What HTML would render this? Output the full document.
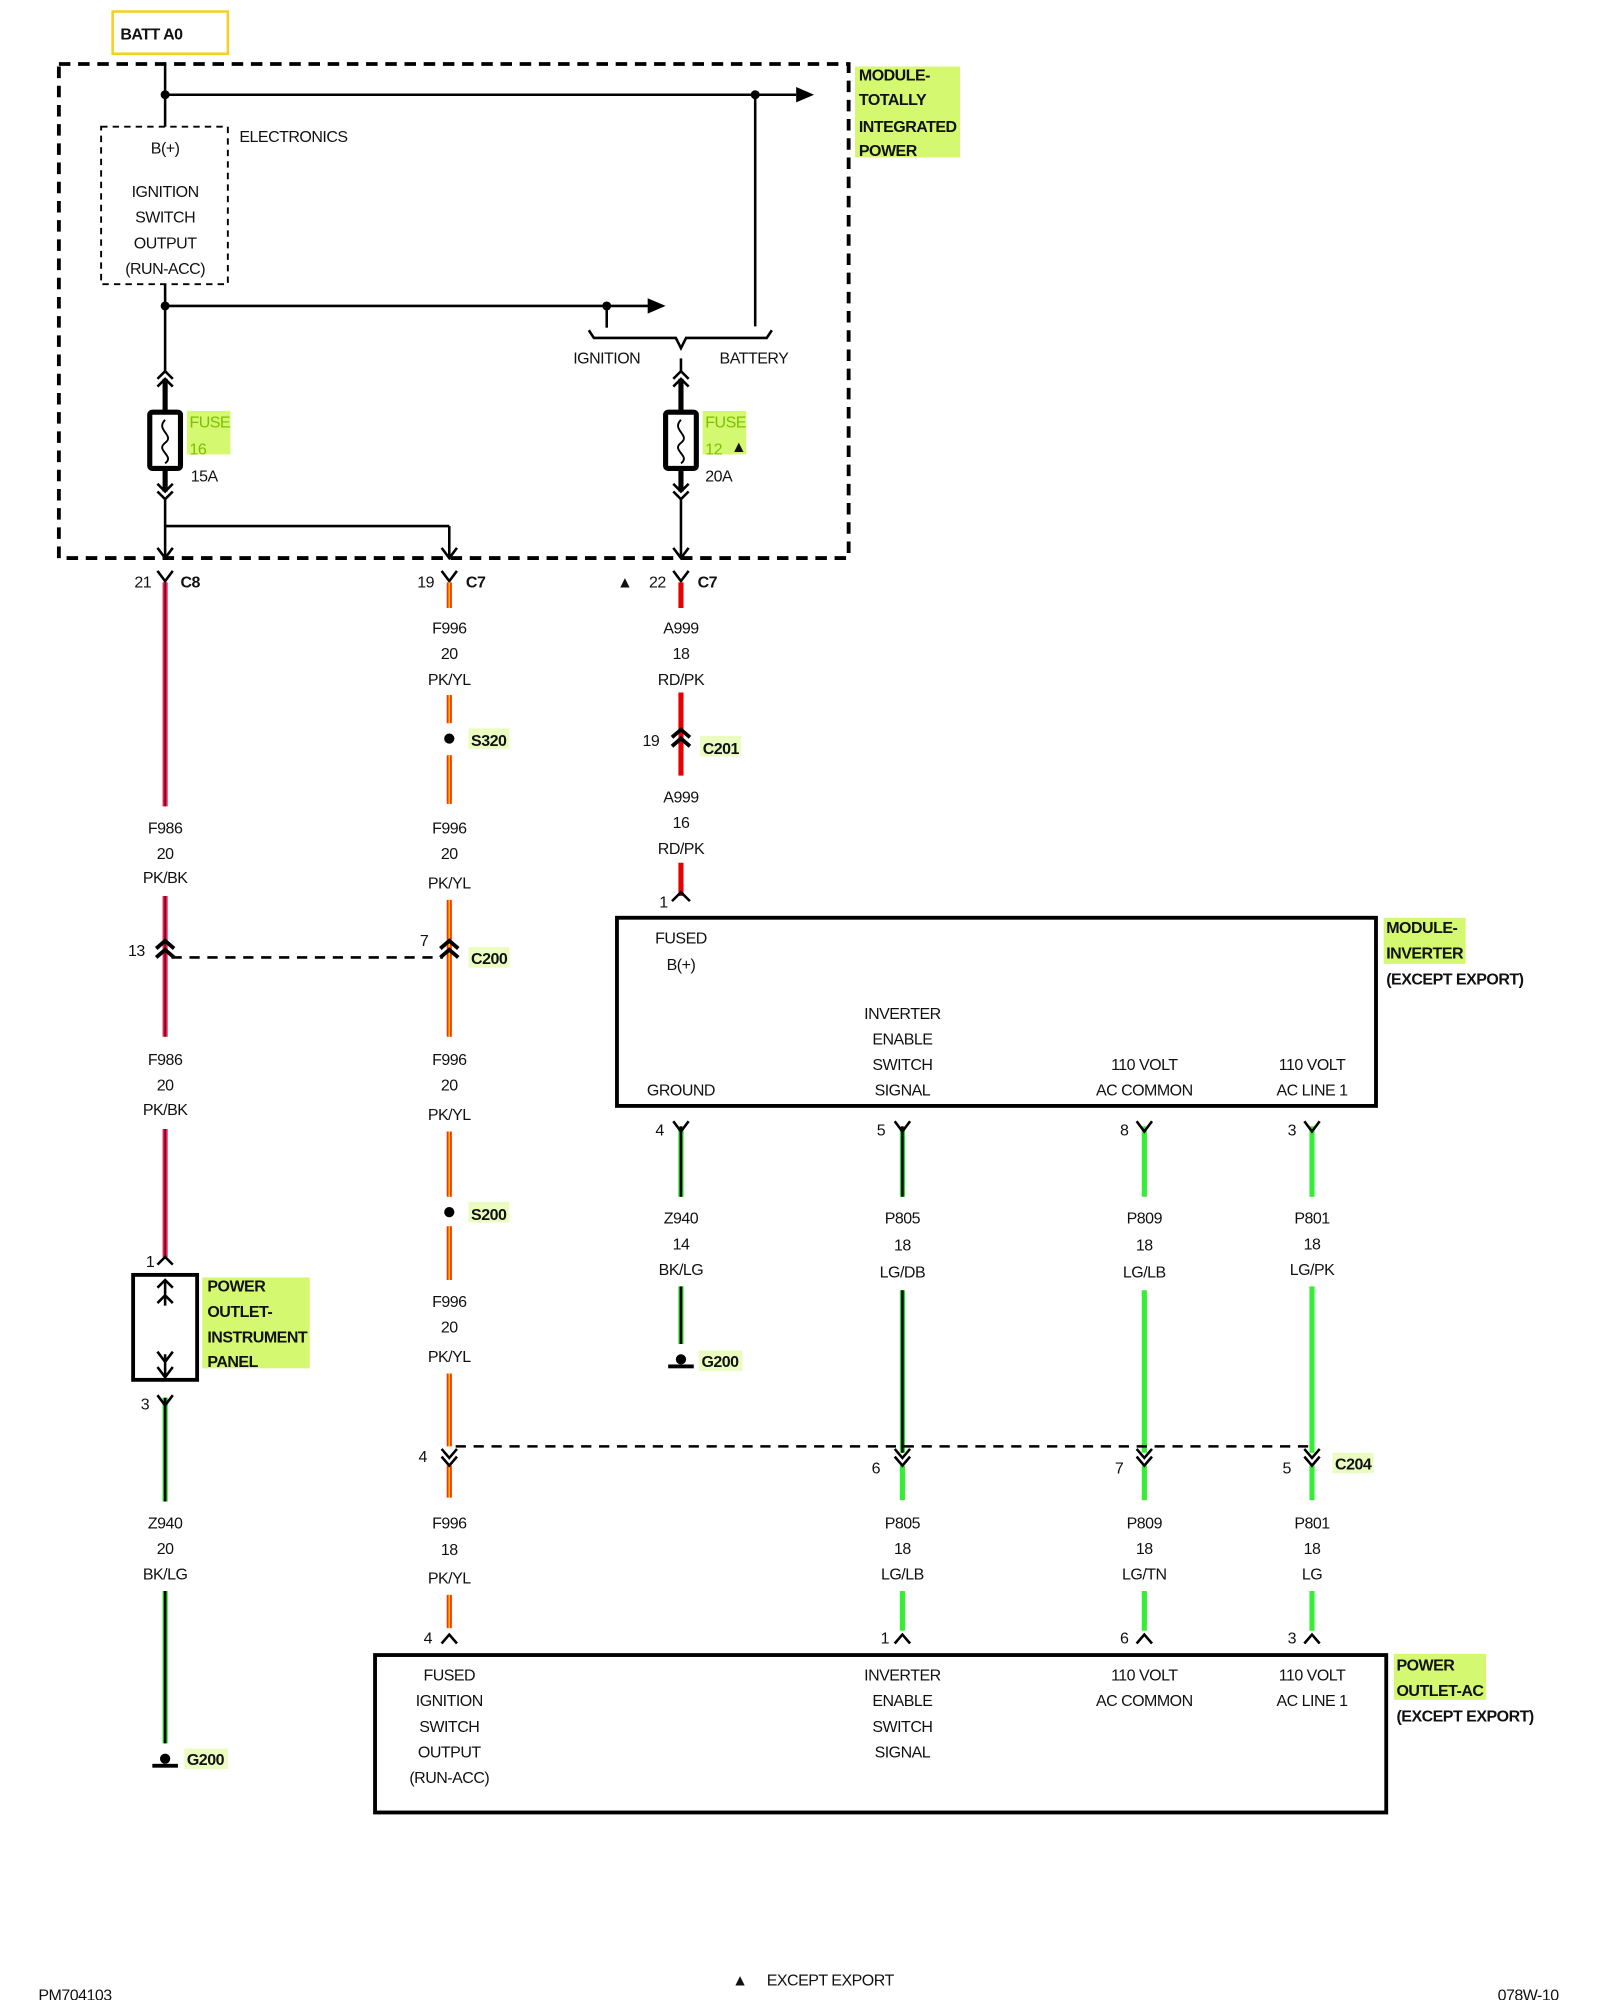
<!DOCTYPE html>
<html><head><meta charset="utf-8"><style>
html,body{margin:0;padding:0;background:#fff;}
svg{display:block;}
text{font-family:"Liberation Sans",sans-serif;font-size:12.5px;letter-spacing:-0.4px;fill:#111;}
.m{text-anchor:middle;}
.b{font-weight:bold;}
.g{fill:#7cc000;}
</style></head><body>
<svg width="1600" height="2000" viewBox="0 0 1250 1562.5" xmlns="http://www.w3.org/2000/svg">
<rect width="1250" height="1562.5" fill="#fff"/>
<rect x="88" y="9" width="90" height="33" fill="none" stroke="#f5d020" stroke-width="2"/>
<text x="94" y="31" class="b">BATT A0</text>
<rect x="46" y="50" width="617" height="386" fill="none" stroke="#000" stroke-width="3" stroke-dasharray="9,6"/>
<rect x="668" y="52" width="82" height="71" fill="#d4f870"/>
<text x="671" y="63" class="b">MODULE-</text><text x="671" y="82" class="b">TOTALLY</text>
<text x="671" y="103" class="b">INTEGRATED</text><text x="671" y="122" class="b">POWER</text>
<g stroke="#000" stroke-width="2" fill="none">
<line x1="129" y1="50" x2="129" y2="99"/>
<line x1="129" y1="74" x2="622" y2="74"/>
<line x1="590" y1="74" x2="590" y2="255"/>
<line x1="129" y1="222" x2="129" y2="290"/>
<line x1="129" y1="239" x2="508" y2="239"/>
<line x1="474" y1="239" x2="474" y2="256"/>
<path d="M460 258 l4 6 h64 l4 8 l4 -8 h63 l4 -6"/>
<line x1="532" y1="280" x2="532" y2="290"/>
<rect x="79" y="99" width="99" height="123" stroke-width="1.5" stroke-dasharray="5,4"/>
</g>
<g fill="#000">
<circle cx="129" cy="74" r="3.5"/><circle cx="590" cy="74" r="3.5"/>
<circle cx="129" cy="239" r="3.5"/><circle cx="474" cy="239" r="3.5"/>
<polygon points="622,68 636,74 622,80"/><polygon points="506,233 520,239 506,245"/>
</g>
<text x="129" y="120" class="m">B(+)</text>
<text x="129" y="154" class="m">IGNITION</text><text x="129" y="174" class="m">SWITCH</text>
<text x="129" y="194" class="m">OUTPUT</text><text x="129" y="214" class="m">(RUN-ACC)</text>
<text x="187" y="111">ELECTRONICS</text>
<text x="474" y="284" class="m">IGNITION</text><text x="589" y="284" class="m">BATTERY</text>
<g stroke="#000" fill="none">
<g stroke-width="2">
<path d="M123 296 l6 -6 l6 6 M123 302 l6 -6 l6 6"/><path d="M526 296 l6 -6 l6 6 M526 302 l6 -6 l6 6"/>
<path d="M123 378 l6 6 l6 -6 M123 384 l6 6 l6 -6"/><path d="M526 378 l6 6 l6 -6 M526 384 l6 6 l6 -6"/>
<line x1="129" y1="390" x2="129" y2="436"/><line x1="532" y1="390" x2="532" y2="436"/>
<line x1="129" y1="411" x2="351" y2="411"/><line x1="351" y1="411" x2="351" y2="436"/>
<path d="M123 428 l6 8 l6 -8 M345 428 l6 8 l6 -8 M526 428 l6 8 l6 -8"/>
</g>
<g stroke-width="4">
<line x1="129" y1="296" x2="129" y2="322"/><line x1="129" y1="366" x2="129" y2="384"/>
<line x1="532" y1="296" x2="532" y2="322"/><line x1="532" y1="366" x2="532" y2="384"/>
<rect x="117" y="322" width="24" height="44" rx="2"/><rect x="520" y="322" width="24" height="44" rx="2"/>
</g>
<path d="M129 328 c-8 8 8 12 0 18 c-8 6 8 10 0 16" stroke-width="1.5"/>
<path d="M532 328 c-8 8 8 12 0 18 c-8 6 8 10 0 16" stroke-width="1.5"/>
</g>
<rect x="146" y="321" width="34" height="34" fill="#d4f870"/><rect x="549" y="321" width="34" height="34" fill="#d4f870"/>
<text x="148" y="334" class="g">FUSE</text><text x="148" y="355" class="g">16</text><text x="149" y="376">15A</text>
<text x="551" y="334" class="g">FUSE</text><text x="551" y="355" class="g">12</text><text x="571" y="353">▲</text><text x="551" y="376">20A</text>
<g stroke="#000" stroke-width="2" fill="none">
<path d="M123 446 l6 8 l6 -8 M129 454 v4"/><path d="M345 446 l6 8 l6 -8"/><path d="M526 446 l6 8 l6 -8"/>
</g>
<text x="105" y="459">21</text><text x="141" y="459" class="b">C8</text>
<text x="326" y="459">19</text><text x="364" y="459" class="b">C7</text>
<text x="482" y="459">▲</text><text x="507" y="459">22</text><text x="545" y="459" class="b">C7</text>
<g stroke-width="4">
<line x1="129" y1="455" x2="129" y2="630" stroke="#e0245a"/>
<line x1="129" y1="700" x2="129" y2="810" stroke="#e0245a"/>
<line x1="129" y1="882" x2="129" y2="982" stroke="#e0245a"/>
<line x1="129" y1="1092" x2="129" y2="1173" stroke="#22dd22"/>
<line x1="129" y1="1243" x2="129" y2="1362" stroke="#22dd22"/>
<line x1="351" y1="455" x2="351" y2="475" stroke="#ff3000"/>
<line x1="351" y1="543" x2="351" y2="565" stroke="#ff3000"/>
<line x1="351" y1="590" x2="351" y2="628" stroke="#ff3000"/>
<line x1="351" y1="703" x2="351" y2="810" stroke="#ff3000"/>
<line x1="351" y1="884" x2="351" y2="935" stroke="#ff3000"/>
<line x1="351" y1="958" x2="351" y2="1000" stroke="#ff3000"/>
<line x1="351" y1="1073" x2="351" y2="1130" stroke="#ff3000"/>
<line x1="351" y1="1145" x2="351" y2="1170" stroke="#ff3000"/>
<line x1="351" y1="1246" x2="351" y2="1272" stroke="#ff3000"/>
<line x1="532" y1="455" x2="532" y2="475" stroke="#e80000"/>
<line x1="532" y1="541" x2="532" y2="606" stroke="#e80000"/>
<line x1="532" y1="674" x2="532" y2="700" stroke="#e80000"/>
<line x1="532" y1="880" x2="532" y2="935" stroke="#22dd22"/>
<line x1="532" y1="1005" x2="532" y2="1050" stroke="#22dd22"/>
<line x1="705" y1="880" x2="705" y2="935" stroke="#22dd22"/>
<line x1="705" y1="1008" x2="705" y2="1135" stroke="#22dd22"/>
<line x1="705" y1="1145" x2="705" y2="1172" stroke="#33ee33"/>
<line x1="705" y1="1243" x2="705" y2="1274" stroke="#33ee33"/>
<line x1="894" y1="880" x2="894" y2="935" stroke="#33ee33"/>
<line x1="894" y1="1008" x2="894" y2="1135" stroke="#33ee33"/>
<line x1="894" y1="1145" x2="894" y2="1172" stroke="#33ee33"/>
<line x1="894" y1="1243" x2="894" y2="1274" stroke="#33ee33"/>
<line x1="1025" y1="880" x2="1025" y2="935" stroke="#33ee33"/>
<line x1="1025" y1="1005" x2="1025" y2="1135" stroke="#33ee33"/>
<line x1="1025" y1="1145" x2="1025" y2="1172" stroke="#33ee33"/>
<line x1="1025" y1="1243" x2="1025" y2="1274" stroke="#33ee33"/>
</g>
<g stroke-width="1.2">
<g stroke="#7a0010"><line x1="129" y1="455" x2="129" y2="630"/><line x1="129" y1="700" x2="129" y2="810"/><line x1="129" y1="882" x2="129" y2="982"/></g>
<g stroke="#ffd000"><line x1="351" y1="455" x2="351" y2="475"/><line x1="351" y1="543" x2="351" y2="565"/><line x1="351" y1="590" x2="351" y2="628"/><line x1="351" y1="703" x2="351" y2="810"/><line x1="351" y1="884" x2="351" y2="935"/><line x1="351" y1="958" x2="351" y2="1000"/><line x1="351" y1="1073" x2="351" y2="1130"/><line x1="351" y1="1145" x2="351" y2="1170"/><line x1="351" y1="1246" x2="351" y2="1272"/></g>
<g stroke="#000" stroke-width="2"><line x1="129" y1="1092" x2="129" y2="1173"/><line x1="129" y1="1243" x2="129" y2="1362"/><line x1="532" y1="880" x2="532" y2="935"/><line x1="532" y1="1005" x2="532" y2="1050"/><line x1="705" y1="880" x2="705" y2="935"/><line x1="705" y1="1008" x2="705" y2="1135"/></g>
</g>
<g stroke="#000" stroke-width="2" fill="none">
<line x1="134" y1="748" x2="346" y2="748" stroke-dasharray="8,6"/>
<line x1="356" y1="1130" x2="1025" y2="1130" stroke-dasharray="8,6"/>
<path d="M122 741 l7 -6 l7 6 M122 748 l7 -6 l7 6" stroke-width="3"/>
<path d="M344 741 l7 -6 l7 6 M344 748 l7 -6 l7 6" stroke-width="3"/>
<path d="M525 576 l7 -6 l7 6 M525 583 l7 -6 l7 6" stroke-width="3"/>
<path d="M125 704 l7 -7 l7 7" transform="translate(400,0)"/>
<path d="M123 988 l6 -6 l6 6"/>
<path d="M345 1284 l6 -7 l6 7"/><path d="M699 1284 l6 -7 l6 7"/><path d="M888 1284 l6 -7 l6 7"/><path d="M1019 1284 l6 -7 l6 7"/>
<path d="M123 1090 l6 8 l6 -8"/>
<path d="M526 876 l6 8 l6 -8 M699 876 l6 8 l6 -8 M888 876 l6 8 l6 -8 M1019 876 l6 8 l6 -8"/>
<path d="M345 1132 l6 7 l6 -7 M345 1138 l6 7 l6 -7"/>
<path d="M699 1132 l6 7 l6 -7 M699 1138 l6 7 l6 -7"/>
<path d="M888 1132 l6 7 l6 -7 M888 1138 l6 7 l6 -7"/>
<path d="M1019 1132 l6 7 l6 -7 M1019 1138 l6 7 l6 -7"/>
<rect x="104" y="996" width="50" height="82" stroke-width="3"/>
<path d="M129 1000 v20 M123 1006 l6 -6 l6 6 M123 1018 l6 -6 l6 6"/>
<path d="M129 1058 v18 M123 1056 l6 8 l6 -8 M123 1068 l6 8 l6 -8"/>
<rect x="482" y="717" width="593" height="147" stroke-width="3"/>
<rect x="293" y="1293" width="790" height="123" stroke-width="3"/>
</g>
<g fill="#000">
<circle cx="351" cy="577" r="4"/><circle cx="351" cy="947" r="4"/>
<circle cx="129" cy="1374" r="4"/><rect x="119" y="1378" width="20" height="3"/>
<circle cx="532" cy="1062" r="4"/><rect x="522" y="1066" width="20" height="3"/>
</g>
<g class="m">
<text x="129" y="651" class="m">F986</text><text x="129" y="671" class="m">20</text><text x="129" y="690" class="m">PK/BK</text>
<text x="129" y="832" class="m">F986</text><text x="129" y="852" class="m">20</text><text x="129" y="871" class="m">PK/BK</text>
<text x="129" y="1194" class="m">Z940</text><text x="129" y="1214" class="m">20</text><text x="129" y="1234" class="m">BK/LG</text>
<text x="351" y="495" class="m">F996</text><text x="351" y="515" class="m">20</text><text x="351" y="535" class="m">PK/YL</text>
<text x="351" y="651" class="m">F996</text><text x="351" y="671" class="m">20</text><text x="351" y="694" class="m">PK/YL</text>
<text x="351" y="832" class="m">F996</text><text x="351" y="852" class="m">20</text><text x="351" y="875" class="m">PK/YL</text>
<text x="351" y="1021" class="m">F996</text><text x="351" y="1041" class="m">20</text><text x="351" y="1064" class="m">PK/YL</text>
<text x="351" y="1194" class="m">F996</text><text x="351" y="1215" class="m">18</text><text x="351" y="1237" class="m">PK/YL</text>
<text x="532" y="495" class="m">A999</text><text x="532" y="515" class="m">18</text><text x="532" y="535" class="m">RD/PK</text>
<text x="532" y="627" class="m">A999</text><text x="532" y="647" class="m">16</text><text x="532" y="667" class="m">RD/PK</text>
<text x="532" y="956" class="m">Z940</text><text x="532" y="976" class="m">14</text><text x="532" y="996" class="m">BK/LG</text>
<text x="705" y="956" class="m">P805</text><text x="705" y="977" class="m">18</text><text x="705" y="998" class="m">LG/DB</text>
<text x="894" y="956" class="m">P809</text><text x="894" y="977" class="m">18</text><text x="894" y="998" class="m">LG/LB</text>
<text x="1025" y="956" class="m">P801</text><text x="1025" y="976" class="m">18</text><text x="1025" y="996" class="m">LG/PK</text>
<text x="705" y="1194" class="m">P805</text><text x="705" y="1214" class="m">18</text><text x="705" y="1234" class="m">LG/LB</text>
<text x="894" y="1194" class="m">P809</text><text x="894" y="1214" class="m">18</text><text x="894" y="1234" class="m">LG/TN</text>
<text x="1025" y="1194" class="m">P801</text><text x="1025" y="1214" class="m">18</text><text x="1025" y="1234" class="m">LG</text>
</g>
<text x="100" y="747">13</text><text x="328" y="739">7</text><text x="502" y="583">19</text>
<text x="515" y="709">1</text><text x="114" y="990">1</text><text x="110" y="1101">3</text>
<text x="512" y="887">4</text><text x="685" y="887">5</text><text x="875" y="887">8</text><text x="1006" y="887">3</text>
<text x="327" y="1142">4</text><text x="681" y="1151">6</text><text x="871" y="1151">7</text><text x="1002" y="1151">5</text>
<text x="331" y="1284">4</text><text x="688" y="1284">1</text><text x="875" y="1284">6</text><text x="1006" y="1284">3</text>
<g class="b">
<rect x="366" y="569" width="32" height="16" fill="#eafcc0"/><text x="368" y="583">S320</text>
<rect x="547" y="575" width="32" height="16" fill="#eafcc0"/><text x="549" y="589">C201</text>
<rect x="366" y="740" width="32" height="16" fill="#eafcc0"/><text x="368" y="753">C200</text>
<rect x="366" y="939" width="32" height="16" fill="#eafcc0"/><text x="368" y="953">S200</text>
<rect x="546" y="1055" width="34" height="16" fill="#eafcc0"/><text x="548" y="1068">G200</text>
<rect x="144" y="1366" width="34" height="16" fill="#eafcc0"/><text x="146" y="1379">G200</text>
<rect x="1041" y="1135" width="32" height="16" fill="#eafcc0"/><text x="1043" y="1148">C204</text>
<rect x="158" y="998" width="84" height="71" fill="#d4f870"/>
<text x="162" y="1009">POWER</text><text x="162" y="1029">OUTLET-</text><text x="162" y="1049">INSTRUMENT</text><text x="162" y="1068">PANEL</text>
<rect x="1081" y="717" width="64" height="36" fill="#d4f870"/>
<text x="1083" y="729">MODULE-</text><text x="1083" y="749">INVERTER</text><text x="1083" y="769">(EXCEPT EXPORT)</text>
<rect x="1089" y="1292" width="72" height="36" fill="#d4f870"/>
<text x="1091" y="1305">POWER</text><text x="1091" y="1325">OUTLET-AC</text><text x="1091" y="1345">(EXCEPT EXPORT)</text>
</g>
<text x="532" y="737" class="m">FUSED</text><text x="532" y="758" class="m">B(+)</text>
<text x="532" y="856" class="m">GROUND</text>
<text x="705" y="796" class="m">INVERTER</text><text x="705" y="816" class="m">ENABLE</text><text x="705" y="836" class="m">SWITCH</text><text x="705" y="856" class="m">SIGNAL</text>
<text x="894" y="836" class="m">110 VOLT</text><text x="894" y="856" class="m">AC COMMON</text>
<text x="1025" y="836" class="m">110 VOLT</text><text x="1025" y="856" class="m">AC LINE 1</text>
<text x="351" y="1313" class="m">FUSED</text><text x="351" y="1333" class="m">IGNITION</text><text x="351" y="1353" class="m">SWITCH</text><text x="351" y="1373" class="m">OUTPUT</text><text x="351" y="1393" class="m">(RUN-ACC)</text>
<text x="705" y="1313" class="m">INVERTER</text><text x="705" y="1333" class="m">ENABLE</text><text x="705" y="1353" class="m">SWITCH</text><text x="705" y="1373" class="m">SIGNAL</text>
<text x="894" y="1313" class="m">110 VOLT</text><text x="894" y="1333" class="m">AC COMMON</text>
<text x="1025" y="1313" class="m">110 VOLT</text><text x="1025" y="1333" class="m">AC LINE 1</text>
<text x="30" y="1563">PM704103</text>
<text x="572" y="1551">▲</text><text x="599" y="1551">EXCEPT EXPORT</text>
<text x="1170" y="1563">078W-10</text>
</svg>
</body></html>
